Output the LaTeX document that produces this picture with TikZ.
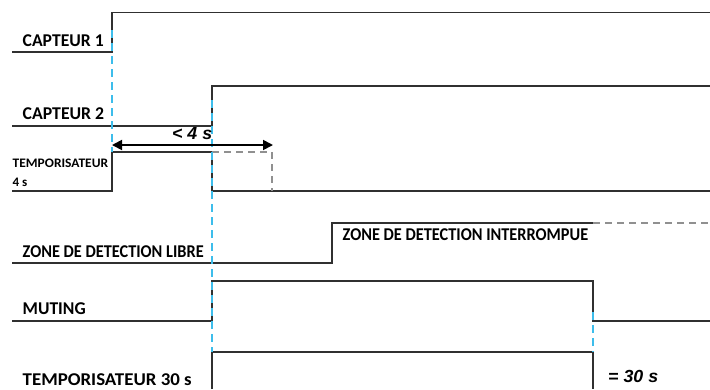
\documentclass[tikz,border=0pt]{standalone}
\usepackage{fontspec}
\usepackage{graphicx}
\setmainfont{Carlito}
\newfontfamily\arialf{Liberation Sans}
\usetikzlibrary{arrows.meta}
\definecolor{sigc}{HTML}{303030}
\definecolor{mark}{HTML}{3DBDEB}
\definecolor{ghost}{HTML}{909090}
\newcommand{\fitw}[2]{\resizebox{#1pt}{\height}{#2}}
\tikzset{
  sig/.style={line width=1.4pt, draw=sigc, line join=miter},
  ghostline/.style={line width=1.4pt, draw=ghost, dash pattern=on 7pt off 5pt},
  marker/.style={line width=1.6pt, draw=mark, dash pattern=on 8pt off 5pt},
  lbl/.style={anchor=base west, inner sep=0pt, font=\bfseries\fontsize{18}{20}\selectfont, text=black},
  smalllbl/.style={anchor=base west, inner sep=0pt, font=\bfseries\fontsize{13}{19}\selectfont, text=black},
  dur/.style={anchor=base west, inner sep=0pt, font=\arialf\bfseries\itshape\fontsize{17.5}{19}\selectfont, text=black},
  dim/.style={line width=1.8pt, draw=black, {Triangle[length=10pt,width=10pt]}-{Triangle[length=10pt,width=10pt]}}
}
\begin{document}
\begin{tikzpicture}[x=1pt,y=-1pt]
\useasboundingbox (0,0) rectangle (710,389);
% signals
\draw[sig] (12,52) -- (112,52) -- (112,12.5) -- (710,12.5);
\draw[sig] (12,126) -- (212,126) -- (212,86) -- (710,86);
\draw[sig] (12,191) -- (112,191) -- (112,152) -- (212,152) -- (212,191) -- (710,191);
\draw[ghostline] (212,152) -- (272,152) -- (272,191);
\draw[sig] (12,263) -- (332,263) -- (332,223) -- (593,223);
\draw[ghostline] (593,223) -- (710,223);
\draw[sig] (12,321) -- (212,321) -- (212,281) -- (593,281) -- (593,321) -- (710,321);
\draw[sig] (212,389) -- (212,352) -- (593,352) -- (593,389);
% markers
\coordinate (m1a) at (112,30);
\coordinate (m1b) at (112,152);
\coordinate (m2a) at (212,100);
\coordinate (m2b) at (212,352);
\coordinate (m3a) at (593,312);
\coordinate (m3b) at (593,352);
\draw[marker] (m1a) -- (m1b);
\draw[marker] (m2a) -- (m2b);
\draw[marker] (m3a) -- (m3b);
% dimension arrow
\coordinate (a1) at (112,145);
\coordinate (a2) at (273,145);
\draw[dim] (a1) -- (a2);
% labels
\node[lbl] (c1) at (22.5,46.5) {\fitw{81}{CAPTEUR 1}};
\node[lbl] (c2) at (22.5,119.5) {\fitw{81.5}{CAPTEUR 2}};
\node[smalllbl] (tp4a) at (12.5,167) {\fitw{95.5}{TEMPORISATEUR}};
\node[smalllbl] (tp4b) at (12.5,186) {4 s};
\node[lbl] (zl) at (22.5,257) {\fitw{181}{ZONE DE DETECTION LIBRE}};
\node[lbl] (zi) at (342.5,240) {\fitw{245.5}{ZONE DE DETECTION INTERROMPUE}};
\node[lbl] (mu) at (22.5,314.5) {\fitw{63}{MUTING}};
\node[lbl] (tp30) at (22.5,385) {\fitw{169}{TEMPORISATEUR 30 s}};
\node[dur] (lt4) at (172,139) {\fitw{40}{< 4 s}};
\node[dur] (eq30) at (608,382) {\fitw{50}{= 30 s}};
\end{tikzpicture}
\end{document}
